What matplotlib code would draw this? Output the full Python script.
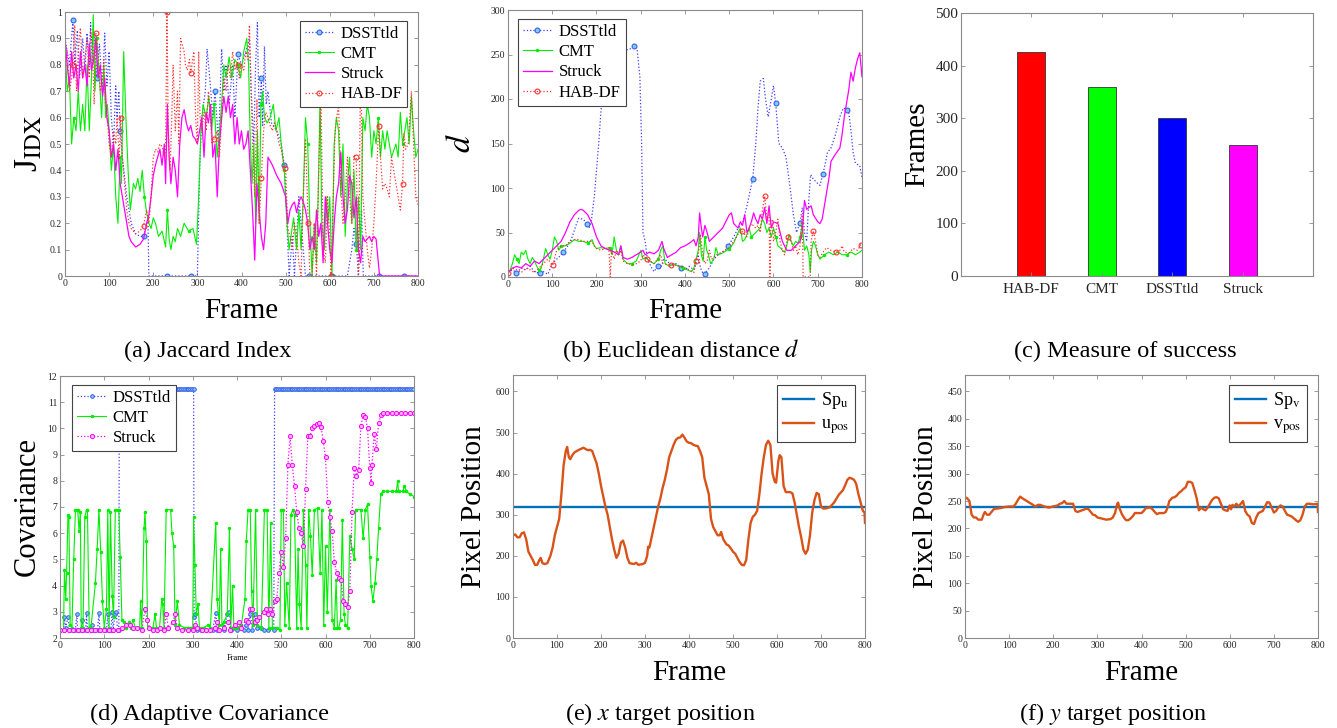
import numpy as np
import matplotlib
matplotlib.use("Agg")
import matplotlib.pyplot as plt

plt.rcParams['font.family'] = ['Liberation Serif', 'DejaVu Serif']
plt.rcParams['mathtext.fontset'] = 'stix'

# ---------------- (a) Jaccard index ----------------
jac_dsst_f = [0, 5, 10, 18, 22, 28, 33, 40, 45, 50, 55, 58, 62, 68, 72, 78, 85, 90, 95, 100, 105, 110, 115, 118, 122, 125,
              130, 140, 150, 160, 170, 178, 185, 188, 190, 232, 285, 300, 305, 310, 318, 322, 328, 335, 340, 348, 355, 360,
              365, 372, 380, 385, 392, 400, 410, 418, 422, 428, 432, 436, 440, 445, 448, 452, 456, 460, 468, 480, 490, 497,
              503, 508, 515, 520, 530, 540, 545, 553, 605, 640, 650, 655, 660, 665, 672, 676, 680, 712, 768, 800]
jac_dsst_v = [0.9, 0.85, 0.8, 0.97, 0.8, 0.93, 0.75, 0.9, 0.78, 0.92, 0.8, 0.96, 0.8, 0.92, 0.75, 0.88, 0.7, 0.92, 0.72, 0.85,
              0.6, 0.5, 0.72, 0.6, 0.7, 0.55, 0.45, 0.3, 0.2, 0.16, 0.15, 0.15, 0.2, 0.22, 0.0, 0.0, 0.0, 0.0, 0.4, 0.6,
              0.7, 0.86, 0.75, 0.6, 0.7, 0.5, 0.86, 0.7, 0.8, 0.65, 0.8, 0.6, 0.84, 0.8, 0.85, 0.9, 0.7, 0.5, 0.8, 0.96,
              0.6, 0.75, 0.57, 0.87, 0.65, 0.7, 0.58, 0.55, 0.5, 0.42, 0.2, 0.0, 0.15, 0.0, 0.3, 0.1, 0.0, 0.0, 0.0, 0.0,
              0.1, 0.18, 0.12, 0.0, 0.25, 0.0, 0.0, 0.0, 0.0, 0.0]

jac_cmt_f = [0, 5, 10, 15, 20, 25, 30, 35, 40, 45, 50, 55, 60, 64, 68, 72, 78, 83, 88, 92, 96, 100, 105, 110, 115, 120, 125,
             128, 133, 138, 143, 148, 155, 160, 165, 170, 175, 180, 185, 190, 195, 200, 205, 212, 220, 228, 232, 236, 240,
             245, 250, 255, 262, 270, 280, 290, 298, 303, 308, 313, 320, 326, 332, 338, 345, 350, 355, 360, 365, 372, 378,
             385, 392, 398, 405, 412, 416, 420, 424, 428, 432, 436, 440, 444, 448, 452, 458, 465, 472, 478, 485, 490, 497,
             503, 508, 512, 518, 525, 530, 535, 540, 545, 550, 555, 560, 565, 570, 575, 578, 582, 588, 592, 596, 600, 605,
             610, 615, 620, 625, 630, 635, 640, 645, 650, 655, 660, 665, 670, 675, 680, 685, 690, 695, 700, 705, 710, 715,
             720, 725, 730, 740, 750, 755, 760, 765, 770, 775, 780, 785, 790, 795, 800]
jac_cmt_v = [0.87, 0.7, 0.75, 0.5, 0.6, 0.55, 0.7, 0.55, 0.65, 0.55, 0.8, 0.55, 0.75, 0.99, 0.7, 0.9, 0.75, 0.6, 0.8, 0.6,
             0.65, 0.55, 0.4, 0.5, 0.3, 0.2, 0.45, 0.35, 0.85, 0.6, 0.4, 0.25, 0.35, 0.33, 0.37, 0.32, 0.4, 0.3, 0.24, 0.2,
             0.18, 0.22, 0.2, 0.15, 0.17, 0.11, 0.25, 0.14, 0.1, 0.15, 0.13, 0.18, 0.15, 0.2, 0.17, 0.18, 0.12, 0.3, 0.55,
             0.65, 0.6, 0.68, 0.55, 0.65, 0.45, 0.55, 0.65, 0.8, 0.75, 0.83, 0.75, 0.82, 0.8, 0.75, 0.85, 0.9, 0.8, 0.5,
             0.35, 0.5, 0.2, 0.55, 0.2, 0.65, 0.7, 0.6, 0.58, 0.6, 0.65, 0.55, 0.6, 0.5, 0.4, 0.2, 0.1, 0.15, 0.22, 0.1,
             0.25, 0.1, 0.3, 0.6, 0.5, 0.2, 0.0, 0.2, 0.05, 0.4, 0.68, 0.2, 0.1, 0.3, 0.2, 0.3, 0.0, 0.5, 0.6, 0.55, 0.3,
             0.5, 0.15, 0.35, 0.45, 0.2, 0.4, 0.1, 0.3, 0.1, 0.6, 0.55, 0.65, 0.6, 0.45, 0.55, 0.5, 0.6, 0.45, 0.55, 0.48,
             0.55, 0.45, 0.5, 0.45, 0.62, 0.5, 0.55, 0.6, 0.5, 0.68, 0.55, 0.45, 0.48]

jac_struck_f = [0, 5, 10, 15, 20, 25, 30, 35, 40, 45, 50, 55, 60, 65, 70, 75, 80, 85, 90, 95, 100, 105, 110, 115, 120, 125,
                130, 135, 140, 145, 150, 160, 170, 178, 185, 190, 195, 200, 205, 210, 215, 220, 225, 228, 232, 236, 240,
                245, 250, 255, 260, 265, 270, 275, 280, 285, 290, 295, 300, 305, 310, 315, 320, 325, 330, 335, 340, 345,
                350, 355, 360, 365, 370, 375, 380, 385, 390, 395, 400, 405, 410, 415, 420, 425, 430, 435, 440, 445, 450,
                455, 460, 470, 480, 490, 500, 505, 510, 515, 520, 525, 530, 535, 540, 545, 550, 555, 560, 565, 570, 575,
                580, 585, 590, 595, 600, 605, 610, 615, 620, 625, 630, 635, 640, 645, 650, 655, 660, 665, 670, 675, 680,
                690, 695, 700, 705, 710, 713, 800]
jac_struck_v = [0.9, 0.8, 0.72, 0.85, 0.75, 0.8, 0.7, 0.85, 0.75, 0.8, 0.72, 0.88, 0.78, 0.82, 0.9, 0.75, 0.8, 0.68, 0.75,
                0.6, 0.55, 0.45, 0.5, 0.4, 0.48, 0.35, 0.3, 0.25, 0.2, 0.15, 0.13, 0.11, 0.12, 0.14, 0.2, 0.23, 0.3, 0.38,
                0.42, 0.45, 0.48, 0.42, 0.5, 0.35, 0.65, 0.45, 0.35, 0.45, 0.4, 0.3, 0.5, 0.6, 0.63, 0.58, 0.55, 0.57,
                0.53, 0.52, 0.5, 0.55, 0.6, 0.45, 0.62, 0.58, 0.65, 0.45, 0.5, 0.3, 0.5, 0.6, 0.68, 0.62, 0.68, 0.6, 0.65,
                0.5, 0.6, 0.5, 0.55, 0.48, 0.5, 0.55, 0.4, 0.25, 0.06, 0.35, 0.25, 0.15, 0.1, 0.2, 0.45, 0.42, 0.38, 0.35,
                0.3, 0.2, 0.25, 0.27, 0.28, 0.24, 0.28, 0.3, 0.28, 0.25, 0.2, 0.1, 0.15, 0.1, 0.25, 0.15, 0.2, 0.05, 0.3,
                0.2, 0.1, 0.05, 0.2, 0.3, 0.35, 0.47, 0.3, 0.2, 0.25, 0.38, 0.35, 0.22, 0.3, 0.1, 0.05, 0.15, 0.13, 0.15,
                0.13, 0.15, 0.14, 0.05, 0.0, 0.0]

jac_hab_f = [0, 5, 10, 15, 18, 22, 26, 30, 35, 40, 45, 50, 55, 58, 62, 66, 70, 75, 80, 85, 88, 92, 96, 100, 105, 110, 115,
             118, 123, 126, 130, 135, 140, 145, 150, 160, 170, 178, 185, 190, 195, 200, 205, 210, 215, 220, 225, 228, 231,
             234, 238, 242, 245, 250, 255, 258, 262, 265, 270, 273, 277, 282, 285, 292, 296, 300, 303, 306, 310, 315, 320,
             325, 330, 333, 338, 345, 350, 355, 360, 365, 370, 375, 380, 385, 391, 395, 400, 405, 410, 415, 418, 422, 425,
             430, 435, 440, 445, 450, 455, 460, 465, 470, 475, 480, 485, 490, 498, 500, 505, 510, 515, 520, 525, 530, 535,
             540, 545, 551, 555, 560, 565, 570, 575, 580, 585, 590, 595, 600, 603, 608, 612, 616, 620, 625, 630, 635, 640,
             645, 650, 655, 660, 665, 670, 675, 680, 685, 690, 695, 700, 705, 711, 715, 720, 725, 730, 735, 740, 745, 750,
             755, 760, 765, 768, 772, 778, 785, 790, 795, 800]
jac_hab_v = [0.88, 0.85, 0.7, 0.75, 0.8, 0.95, 0.7, 0.85, 0.94, 0.75, 0.82, 0.9, 0.75, 0.93, 0.88, 0.65, 0.92, 0.85, 0.7,
             0.75, 0.82, 0.65, 0.6, 0.5, 0.45, 0.55, 0.5, 0.6, 0.44, 0.6, 0.45, 0.35, 0.25, 0.2, 0.18, 0.16, 0.17, 0.19,
             0.25, 0.2, 0.3, 0.45, 0.48, 0.47, 0.5, 0.49, 0.45, 0.48, 1.0, 0.55, 0.4, 0.6, 0.8, 0.55, 0.7, 0.5, 0.9, 0.88,
             0.85, 0.8, 0.78, 0.82, 0.77, 0.85, 0.6, 0.5, 0.85, 0.6, 0.55, 0.62, 0.55, 0.7, 0.6, 0.5, 0.52, 0.55, 0.45,
             0.6, 0.75, 0.7, 0.8, 0.75, 0.85, 0.78, 0.8, 0.75, 0.8, 0.78, 0.85, 0.82, 0.95, 0.7, 0.5, 0.3, 0.67, 0.2, 0.37,
             0.55, 0.62, 0.6, 0.57, 0.55, 0.58, 0.55, 0.5, 0.48, 0.41, 0.4, 0.18, 0.15, 0.1, 0.2, 0.15, 0.05, 0.0, 0.3,
             0.52, 0.2, 0.0, 0.0, 0.2, 0.0, 0.4, 0.7, 0.1, 0.05, 0.3, 0.14, 0.0, 0.3, 0.55, 0.6, 0.65, 0.35, 0.2, 0.3,
             0.45, 0.3, 0.2, 0.46, 0.45, 0.0, 0.8, 0.3, 0.2, 0.1, 0.03, 0.1, 0.2, 0.35, 0.57, 0.45, 0.33, 0.35, 0.33, 0.3,
             0.45, 0.4, 0.35, 0.3, 0.25, 0.35, 0.54, 0.48, 0.5, 0.7, 0.5, 0.3, 0.27]

# ---------------- (b) Euclidean distance ----------------
dist_dsst_f = [0, 10, 19, 30, 40, 50, 60, 72, 80, 90, 100, 110, 120, 125, 135, 145, 155, 160, 170, 178, 183, 188, 195,
               205, 212, 220, 230, 240, 250, 258, 265, 275, 285, 292, 298, 302, 305, 310, 315, 320, 325, 330, 338, 345,
               352, 360, 370, 380, 392, 400, 410, 420, 425, 430, 435, 440, 445, 448, 455, 460, 465, 475, 485, 491, 498,
               510, 520, 530, 540, 553, 560, 565, 570, 577, 582, 588, 595, 600, 605, 608, 612, 620, 628, 635, 640, 645,
               652, 660, 665, 670, 675, 680, 684, 690, 700, 705, 712, 718, 722, 730, 740, 750, 758, 765, 770, 775, 780,
               785, 795, 800]
dist_dsst_v = [5, 8, 5, 10, 8, 12, 6, 4, 6, 3, 15, 20, 25, 28, 35, 45, 60, 66, 65, 60, 55, 62, 90, 150, 200, 240, 255, 257,
               255, 252, 255, 256, 259, 255, 225, 150, 50, 40, 20, 15, 10, 6, 12, 10, 20, 18, 12, 15, 10, 8, 12, 8, 15, 25,
               10, 5, 3, 6, 10, 15, 20, 25, 28, 30, 35, 45, 55, 60, 80, 110, 150, 190, 220, 223, 200, 180, 200, 215, 195,
               176, 150, 145, 135, 110, 90, 70, 50, 61, 78, 50, 40, 88, 115, 110, 105, 103, 116, 130, 140, 145, 160, 180,
               190, 188, 185, 165, 140, 128, 125, 112]

dist_cmt_f = [0, 5, 10, 15, 20, 25, 30, 35, 40, 45, 50, 55, 60, 65, 70, 75, 80, 85, 90, 95, 100, 105, 110, 115, 120, 130,
              140, 150, 160, 170, 180, 190, 195, 200, 210, 220, 230, 235, 240, 245, 250, 255, 260, 270, 280, 290, 300,
              305, 310, 315, 320, 330, 340, 345, 350, 355, 365, 375, 385, 395, 405, 415, 420, 425, 430, 433, 437, 441,
              445, 449, 453, 458, 465, 470, 475, 485, 495, 500, 510, 520, 525, 530, 535, 540, 545, 550, 560, 570, 575,
              580, 585, 590, 595, 600, 605, 610, 615, 620, 625, 630, 635, 640, 645, 650, 655, 660, 665, 670, 675, 680,
              683, 686, 690, 695, 700, 705, 715, 725, 735, 745, 755, 765, 775, 785, 795, 800]
dist_cmt_v = [5, 8, 15, 25, 20, 15, 28, 25, 30, 20, 15, 22, 18, 12, 8, 10, 20, 32, 25, 20, 30, 45, 40, 30, 35, 35, 38, 42,
              40, 40, 38, 42, 35, 32, 33, 32, 33, 25, 45, 30, 25, 35, 20, 15, 15, 18, 30, 20, 22, 20, 18, 15, 20, 30, 35,
              15, 12, 15, 12, 10, 8, 6, 10, 20, 30, 50, 25, 18, 45, 30, 25, 15, 20, 33, 25, 27, 30, 32, 38, 50, 55, 40,
              42, 48, 55, 45, 50, 55, 65, 60, 50, 55, 45, 55, 45, 35, 33, 30, 28, 35, 48, 40, 35, 40, 38, 45, 60, 30, 35,
              25, 5, 30, 40, 35, 25, 20, 25, 28, 25, 28, 25, 25, 28, 25, 28, 30]

dist_struck_f = [0, 10, 20, 30, 40, 50, 60, 70, 80, 90, 100, 110, 120, 130, 140, 150, 160, 165, 170, 180, 190, 200, 210,
                 220, 230, 240, 250, 255, 260, 270, 280, 290, 300, 305, 310, 320, 330, 340, 348, 352, 360, 370, 380, 390,
                 400, 410, 420, 425, 430, 433, 437, 440, 445, 450, 455, 465, 475, 485, 495, 500, 505, 510, 520, 525, 530,
                 535, 540, 545, 550, 555, 560, 565, 570, 575, 580, 585, 590, 595, 600, 610, 615, 620, 630, 640, 650, 660,
                 665, 670, 675, 680, 685, 690, 700, 705, 710, 715, 720, 725, 730, 740, 750, 755, 760, 765, 770, 775, 780,
                 785, 790, 795, 800]
dist_struck_v = [5, 10, 12, 10, 15, 12, 18, 15, 20, 25, 30, 35, 40, 50, 62, 70, 75, 76, 75, 70, 60, 45, 35, 32, 30, 28, 25,
                 35, 22, 20, 22, 25, 28, 30, 25, 28, 26, 30, 40, 32, 22, 25, 28, 33, 35, 38, 42, 35, 45, 72, 55, 45, 58,
                 50, 40, 45, 50, 55, 65, 70, 72, 60, 55, 62, 58, 70, 50, 55, 62, 72, 65, 60, 70, 65, 78, 60, 80, 55, 62,
                 60, 50, 40, 30, 30, 35, 40, 50, 86, 76, 78, 80, 70, 62, 60, 65, 80, 95, 110, 130, 138, 145, 160, 180, 195,
                 210, 230, 220, 235, 245, 252, 225]

dist_hab_f = [0, 10, 20, 30, 40, 50, 60, 70, 80, 90, 101, 110, 120, 130, 140, 150, 160, 170, 180, 190, 195, 200, 210, 220,
              228, 231, 234, 240, 245, 250, 255, 260, 270, 280, 290, 300, 305, 313, 320, 330, 338, 345, 350, 360, 368,
              380, 390, 400, 410, 420, 425, 430, 435, 440, 445, 450, 455, 460, 465, 470, 480, 490, 500, 510, 520, 528,
              540, 545, 550, 560, 565, 570, 575, 580, 585, 590, 592, 594, 598, 600, 605, 610, 615, 620, 625, 632, 640,
              645, 650, 655, 660, 665, 667, 683, 685, 690, 695, 700, 705, 712, 720, 730, 742, 750, 755, 760, 770, 780,
              790, 797, 800]
dist_hab_v = [5, 10, 8, 5, 10, 8, 5, 10, 15, 20, 13, 30, 35, 35, 40, 42, 42, 40, 40, 40, 35, 32, 30, 32, 33, 0, 30, 20, 30,
              25, 30, 18, 15, 14, 15, 18, 25, 20, 18, 15, 20, 25, 15, 14, 14, 13, 12, 10, 8, 5, 18, 25, 48, 25, 15, 18,
              30, 20, 22, 25, 27, 30, 33, 40, 48, 52, 45, 55, 60, 55, 58, 50, 75, 91, 65, 70, 0, 60, 65, 40, 50, 65, 40,
              30, 25, 45, 40, 30, 35, 25, 35, 70, 0, 0, 40, 52, 40, 25, 22, 28, 33, 30, 28, 30, 35, 28, 27, 32, 30, 36,
              38]

# ---------------- (c) measure of success ----------------
trackers = ['HAB-DF', 'CMT', 'DSSTtld', 'Struck']
success_frames = [426, 360, 300, 250]
bar_colors = ['#ff0000', '#00ff00', '#0000ff', '#ff00ff']

# ---------------- (d) adaptive covariance ----------------
cov_dsst_f = ([0, 8, 10, 13, 18, 22, 35, 38, 40, 48, 50, 52, 58, 60, 62, 70, 72, 75, 85, 88, 90, 105, 108, 110, 115, 118,
               120, 124, 127, 130, 133]
              + list(range(134, 303, 4))
              + [303, 305, 310, 318, 330, 345, 352, 355, 370, 378, 383, 386, 400, 415, 420, 425, 430, 435, 440, 445,
                 455, 460, 470, 483]
              + list(range(485, 801, 4)))
cov_dsst_v = ([2.3, 2.3, 2.8, 2.4, 2.8, 2.3, 2.3, 2.9, 2.3, 2.3, 2.7, 2.3, 2.3, 2.95, 2.3, 2.3, 2.5, 2.3, 2.3, 2.95, 2.3,
               2.3, 2.9, 2.3, 2.3, 3.0, 2.3, 2.9, 3.0, 2.3, 2.3]
              + [11.5] * len(range(134, 303, 4))
              + [2.8, 2.9, 2.3, 2.3, 2.3, 2.3, 2.95, 2.3, 2.3, 2.9, 3.0, 2.3, 2.3, 2.3, 2.5, 2.3, 2.9, 2.3, 2.9, 2.4,
                 2.4, 2.3, 2.3, 2.3]
              + [11.5] * len(range(485, 801, 4)))

cov_cmt_f = [0, 8, 10, 13, 15, 18, 20, 23, 27, 31, 35, 40, 43, 46, 48, 52, 56, 60, 62, 66, 70, 80, 84, 88, 92, 96, 100,
             105, 108, 111, 114, 118, 121, 125, 131, 133, 136, 140, 145, 150, 155, 160, 165, 170, 180, 182, 185, 190, 192,
             195, 198, 210, 215, 218, 225, 230, 232, 235, 240, 250, 253, 257, 260, 265, 270, 280, 290, 295, 300, 302, 305,
             308, 312, 315, 325, 335, 340, 352, 355, 360, 363, 366, 370, 378, 383, 386, 390, 393, 400, 410, 418, 421, 425,
             430, 433, 436, 442, 446, 455, 462, 468, 472, 476, 480, 490, 497, 500, 505, 508, 512, 518, 522, 526, 530, 535,
             538, 541, 545, 550, 555, 558, 562, 566, 570, 575, 582, 588, 592, 596, 600, 604, 610, 615, 620, 624, 627, 630,
             634, 638, 642, 645, 650, 655, 660, 665, 668, 680, 685, 690, 695, 700, 703, 707, 712, 716, 720, 725, 730, 740,
             750, 760, 763, 765, 775, 778, 783, 790, 800]
cov_cmt_v = [2.3, 2.3, 4.6, 3.5, 4.5, 6.7, 6.6, 2.5, 2.4, 5.0, 6.9, 6.9, 6.1, 6.8, 2.4, 2.4, 6.6, 6.9, 6.9, 2.4, 2.4, 4.1,
             5.4, 6.9, 5.3, 3.4, 2.4, 3.1, 6.9, 2.4, 6.8, 3.6, 2.8, 6.9, 6.9, 6.9, 5.1, 2.7, 2.6, 2.4, 2.6, 2.4, 2.7, 2.4,
             2.4, 3.4, 2.4, 6.2, 6.8, 5.7, 2.4, 2.4, 2.9, 2.4, 2.4, 3.5, 3.3, 2.4, 6.9, 6.9, 6.0, 5.5, 2.5, 3.4, 2.5, 2.4,
             2.4, 2.4, 2.4, 6.6, 4.8, 2.9, 3.3, 2.4, 2.4, 2.5, 2.4, 6.4, 3.5, 2.5, 5.4, 2.5, 2.6, 2.9, 6.2, 2.4, 4.0, 2.4,
             2.4, 2.5, 3.5, 5.7, 6.9, 6.9, 3.8, 2.5, 6.9, 2.5, 2.4, 6.9, 6.9, 2.4, 6.4, 2.4, 2.4, 2.3, 6.9, 6.9, 2.5, 4.1,
             2.4, 6.7, 6.9, 6.7, 2.4, 5.4, 3.3, 2.4, 6.9, 4.8, 2.4, 6.9, 5.9, 4.4, 6.9, 6.95, 4.5, 6.9, 2.5, 5.5, 3.0, 6.9,
             2.7, 2.4, 4.2, 2.4, 2.4, 2.7, 6.5, 2.9, 2.5, 2.4, 5.9, 5.4, 5.0, 6.9, 6.9, 5.8, 6.9, 7.1, 5.1, 4.0, 3.4, 4.1,
             5.0, 6.2, 7.5, 7.6, 7.6, 7.6, 7.6, 8.0, 7.6, 7.6, 7.8, 7.6, 7.5, 7.4]

cov_struck_f = [0, 10, 20, 30, 40, 50, 60, 70, 80, 90, 100, 110, 120, 130, 140, 150, 158, 165, 175, 185, 192, 197, 202,
                210, 220, 225, 235, 240, 245, 255, 260, 265, 275, 290, 300, 305, 310, 320, 330, 340, 350, 355, 360, 370,
                380, 385, 395, 405, 410, 420, 425, 430, 435, 440, 445, 450, 460, 465, 470, 475, 480, 485, 490, 495, 500,
                505, 510, 515, 520, 525, 530, 535, 540, 545, 550, 555, 560, 565, 570, 575, 580, 585, 590, 595, 600, 605,
                610, 615, 620, 625, 630, 635, 640, 645, 650, 655, 660, 665, 670, 675, 680, 685, 690, 695, 700, 703, 705,
                710, 715, 720, 725, 730, 740, 750, 760, 770, 780, 790, 800]
cov_struck_v = [2.3, 2.3, 2.3, 2.3, 2.3, 2.3, 2.3, 2.3, 2.3, 2.3, 2.3, 2.3, 2.3, 2.3, 2.4, 2.5, 2.5, 2.4, 2.4, 2.3, 3.1,
                2.7, 2.4, 2.3, 2.3, 2.4, 2.3, 2.9, 2.4, 2.6, 2.9, 2.4, 2.3, 2.3, 2.3, 2.5, 2.4, 2.3, 2.3, 2.3, 2.4, 2.6,
                2.3, 2.4, 2.6, 2.3, 2.5, 2.6, 2.4, 2.7, 2.6, 3.1, 3.1, 2.6, 2.7, 2.8, 3.0, 3.1, 2.9, 3.1, 2.9, 3.4, 3.5,
                4.5, 5.3, 4.7, 5.8, 8.6, 9.7, 8.6, 7.8, 6.8, 6.2, 6.0, 5.5, 7.7, 9.7, 9.7, 10.0, 10.1, 10.15, 10.2, 10.05,
                9.5, 8.9, 7.2, 6.6, 6.1, 4.9, 4.5, 4.3, 4.2, 3.4, 3.3, 3.2, 3.8, 6.8, 8.5, 8.2, 8.4, 10.1, 10.5, 10.45,
                10.0, 8.5, 7.9, 8.6, 9.8, 9.2, 10.2, 10.5, 10.6, 10.6, 10.6, 10.6, 10.6, 10.6, 10.6, 10.6]

# ---------------- (e) / (f) target position ----------------
setpoint_u = 320
setpoint_v = 240

upos_f = [0, 5, 10, 15, 20, 25, 30, 35, 40, 45, 50, 55, 60, 63, 67, 72, 78, 85, 90, 95, 100, 105, 110, 115, 120, 123, 127,
          130, 135, 140, 150, 160, 165, 170, 175, 180, 185, 190, 195, 200, 205, 210, 215, 220, 225, 230, 235, 240, 245,
          250, 255, 260, 265, 275, 280, 285, 295, 300, 305, 307, 310, 315, 320, 325, 330, 335, 340, 345, 350, 355, 360,
          365, 370, 375, 380, 385, 390, 395, 400, 405, 410, 415, 420, 425, 430, 435, 440, 445, 450, 455, 460, 465, 470,
          473, 478, 485, 490, 495, 500, 505, 510, 515, 520, 525, 530, 535, 540, 545, 550, 555, 560, 565, 570, 575, 580,
          585, 590, 595, 598, 603, 606, 610, 615, 620, 625, 630, 635, 640, 645, 650, 655, 660, 665, 670, 675, 680, 685,
          690, 695, 700, 705, 710, 720, 730, 740, 750, 755, 760, 765, 770, 775, 780, 785, 790, 795, 799, 800]
upos_v = [250, 252, 245, 245, 255, 257, 240, 210, 200, 190, 178, 178, 190, 195, 182, 180, 182, 200, 220, 250, 270, 290,
          350, 420, 455, 465, 440, 435, 445, 452, 458, 463, 460, 457, 458, 455, 440, 425, 400, 370, 345, 320, 300, 270,
          240, 215, 195, 205, 232, 237, 220, 195, 182, 180, 183, 178, 180, 183, 200, 222, 220, 245, 270, 295, 320, 340,
          365, 385, 410, 440, 455, 470, 482, 487, 488, 495, 487, 478, 475, 474, 470, 468, 467, 455, 440, 390, 370, 350,
          290, 270, 260, 250, 250, 258, 240, 228, 225, 218, 210, 205, 195, 185, 178, 177, 190, 240, 280, 295, 300, 310,
          350, 400, 440, 470, 480, 470, 400, 380, 378, 430, 445, 440, 370, 355, 355, 355, 352, 330, 300, 270, 245, 215,
          205, 215, 250, 305, 335, 353, 350, 320, 315, 315, 318, 330, 348, 360, 372, 385, 390, 388, 385, 375, 350, 330,
          310, 305, 280]

vpos_f = [0, 5, 10, 15, 20, 25, 30, 38, 42, 45, 50, 55, 60, 65, 70, 80, 90, 100, 110, 115, 120, 125, 130, 140, 150, 160,
          165, 170, 180, 190, 200, 210, 215, 220, 225, 230, 240, 245, 250, 255, 265, 275, 280, 285, 290, 295, 300, 310,
          320, 330, 335, 340, 345, 347, 350, 355, 360, 365, 370, 375, 380, 385, 390, 395, 400, 405, 410, 420, 425, 430,
          435, 440, 450, 455, 460, 463, 470, 475, 480, 485, 490, 495, 500, 505, 510, 515, 520, 525, 530, 535, 540, 545,
          550, 555, 560, 565, 570, 575, 580, 585, 590, 595, 600, 603, 606, 610, 615, 620, 625, 630, 635, 640, 645, 650,
          655, 660, 665, 670, 675, 680, 685, 690, 695, 700, 705, 710, 715, 720, 725, 730, 740, 750, 755, 760, 765, 770,
          775, 780, 790, 799, 800]
vpos_v = [257, 255, 250, 225, 220, 220, 216, 216, 225, 230, 225, 225, 230, 235, 236, 237, 239, 240, 240, 245, 252, 258,
          255, 250, 245, 240, 243, 243, 240, 238, 240, 242, 245, 246, 250, 245, 245, 245, 232, 230, 233, 236, 235, 230,
          225, 224, 220, 218, 216, 217, 220, 228, 245, 247, 237, 227, 220, 215, 215, 218, 222, 228, 228, 228, 228, 232,
          237, 238, 235, 230, 226, 228, 228, 230, 240, 250, 256, 257, 260, 265, 268, 272, 275, 285, 285, 283, 270, 255,
          233, 238, 235, 233, 238, 245, 252, 256, 257, 255, 245, 235, 233, 232, 242, 235, 243, 240, 245, 240, 245, 250,
          232, 225, 222, 210, 208, 220, 228, 230, 232, 240, 248, 247, 238, 229, 232, 238, 242, 240, 232, 225, 222, 215,
          212, 215, 225, 240, 245, 245, 244, 245, 230]

# ---------------- styling helpers ----------------
W, H = 1337, 728
SPINE = '#8a8a8a'
TICKC = '#262626'
C_DSST = '#3c3cff'
C_CMT = '#00ee00'
C_STRUCK = '#ff00ff'
C_HAB = '#ff3030'
C_SP = '#0072BD'
C_POS = '#D95319'
CAPTION = 17.5


def box(l, t, r, b):
    return [l / W, 1 - b / H, (r - l) / W, (b - t) / H]


def style(ax):
    for s in ax.spines.values():
        s.set_color(SPINE)
        s.set_linewidth(0.8)
    ax.tick_params(direction='in', top=True, right=True, length=3, width=0.6, color=SPINE,
                   labelsize=7, labelcolor=TICKC, pad=2)


def marks(frames, at):
    fr = np.asarray(frames)
    return sorted({int(np.argmin(np.abs(fr - m))) for m in at})


def legend(ax, loc, anchor, size):
    lg = ax.legend(loc=loc, bbox_to_anchor=anchor, fontsize=size, frameon=True, fancybox=False,
                   framealpha=1, edgecolor='#444444', borderpad=0.3, labelspacing=0.25,
                   handlelength=1.75, handletextpad=0.4, borderaxespad=0)
    lg.get_frame().set_linewidth(0.8)
    return lg


fig = plt.figure(figsize=(W / 100, H / 100), dpi=100)

mk_a = [18, 71, 125, 178, 231, 285, 338, 391, 445, 498, 551, 605, 658, 711, 765]
mk_b_hab = [0, 101, 313, 368, 425, 528, 580, 632, 690, 742, 797]

# (a)
ax = fig.add_axes(box(65, 12, 418, 276))
ax.plot(jac_dsst_f, jac_dsst_v, ':', color=C_DSST, lw=0.9, marker='o', ms=3.5, mfc='#7ccfe6', mec='#3a5cf0',
        mew=0.8, markevery=marks(jac_dsst_f, mk_a), label='DSSTtld')
ax.plot(jac_cmt_f, jac_cmt_v, '-', color=C_CMT, lw=0.8, marker='.', ms=3, markevery=marks(jac_cmt_f, mk_a),
        label='CMT')
ax.plot(jac_struck_f, jac_struck_v, '-', color=C_STRUCK, lw=0.9, label='Struck')
ax.plot(jac_hab_f, jac_hab_v, ':', color=C_HAB, lw=0.9, marker='o', ms=3.5, mfc='none', mec=C_HAB, mew=0.8,
        markevery=marks(jac_hab_f, mk_a), label='HAB-DF')
ax.set_xlim(0, 800)
ax.set_ylim(0, 1)
ax.set_xticks(range(0, 801, 100))
ax.set_yticks(np.arange(0, 1.01, 0.1))
ax.set_yticklabels(['0'] + [f'{v / 10:.1f}' for v in range(1, 10)] + ['1'])
style(ax)
ax.set_xlabel('Frame', fontsize=21, labelpad=7)
ax.set_ylabel(r'J$_{\mathrm{IDX}}$', fontsize=24, labelpad=4)
legend(ax, 'upper right', (0.97, 0.966), 12)
fig.text(208 / W, 1 - 351 / H, '(a) Jaccard Index', ha='center', va='center', fontsize=CAPTION)

# (b)
ax = fig.add_axes(box(508, 10, 862, 277))
ax.plot(dist_dsst_f, dist_dsst_v, ':', color=C_DSST, lw=0.9, marker='o', ms=3.5, mfc='#7ccfe6', mec='#3a5cf0',
        mew=0.8, markevery=marks(dist_dsst_f, [19] + mk_a[1:]), label='DSSTtld')
ax.plot(dist_cmt_f, dist_cmt_v, '-', color=C_CMT, lw=0.8, marker='.', ms=3,
        markevery=marks(dist_cmt_f, mk_a), label='CMT')
ax.plot(dist_struck_f, dist_struck_v, '-', color=C_STRUCK, lw=0.9, label='Struck')
ax.plot(dist_hab_f, dist_hab_v, ':', color=C_HAB, lw=0.9, marker='o', ms=3.5, mfc='none', mec=C_HAB, mew=0.8,
        markevery=marks(dist_hab_f, mk_b_hab), label='HAB-DF')
ax.set_xlim(0, 800)
ax.set_ylim(0, 300)
ax.set_xticks(range(0, 801, 100))
ax.set_yticks(range(0, 301, 50))
style(ax)
ax.set_xlabel('Frame', fontsize=21, labelpad=7)
ax.set_ylabel(r'$d$', fontsize=24, labelpad=10)
legend(ax, 'upper left', (0.028, 0.966), 12)
fig.text(681 / W, 1 - 351 / H, r'(b) Euclidean distance $d$', ha='center', va='center', fontsize=CAPTION)

# (c)
ax = fig.add_axes(box(961, 13, 1313, 276))
pos = np.arange(1, len(trackers) + 1)
ax.bar(pos, success_frames, width=0.4, color=bar_colors, edgecolor='#333333', linewidth=0.6)
ax.set_xlim(0, 5)
ax.set_ylim(0, 500)
ax.set_xticks(pos)
ax.set_xticklabels(trackers)
ax.set_yticks(range(0, 501, 100))
style(ax)
ax.tick_params(axis='x', labelsize=11, pad=5)
ax.tick_params(axis='y', labelsize=11)
ax.set_ylabel('Frames', fontsize=21, labelpad=4)
fig.text(1125 / W, 1 - 351 / H, '(c) Measure of success', ha='center', va='center', fontsize=CAPTION)

# (d)
ax = fig.add_axes(box(60, 376, 414, 638))
ax.plot(cov_dsst_f, cov_dsst_v, ':', color=C_DSST, lw=0.9, marker='o', ms=2.6, mfc='#7ccfe6', mec='#3a5cf0',
        mew=0.7, label='DSSTtld')
ax.plot(cov_cmt_f, cov_cmt_v, '-', color=C_CMT, lw=0.8, marker='.', ms=3, label='CMT')
ax.plot(cov_struck_f, cov_struck_v, ':', color=C_STRUCK, lw=0.9, marker='o', ms=3, mfc='#f6b8f6', mec=C_STRUCK,
        mew=0.7, label='Struck')
ax.set_xlim(0, 800)
ax.set_ylim(2, 12)
ax.set_xticks(range(0, 801, 100))
ax.set_yticks(range(2, 13))
style(ax)
ax.set_xlabel('Frame', fontsize=6, labelpad=3)
ax.set_ylabel('Covariance', fontsize=22, labelpad=4)
legend(ax, 'upper left', (0.034, 0.966), 12)
fig.text(209 / W, 1 - 714 / H, '(d) Adaptive Covariance', ha='center', va='center', fontsize=CAPTION)

# (e)
ax = fig.add_axes(box(513, 375, 865, 638))
ax.plot([0, 800], [setpoint_u, setpoint_u], '-', color=C_SP, lw=1.7, label=r'Sp$_{\mathrm{u}}$')
ax.plot(upos_f, upos_v, '-', color=C_POS, lw=1.7, label=r'u$_{\mathrm{pos}}$')
ax.set_xlim(0, 800)
ax.set_ylim(0, 640)
ax.set_xticks(range(0, 801, 100))
ax.set_yticks(range(0, 601, 100))
style(ax)
ax.set_xlabel('Frame', fontsize=21, labelpad=7)
ax.set_ylabel('Pixel Position', fontsize=21, labelpad=6)
legend(ax, 'upper right', (0.972, 0.962), 13)
fig.text(660 / W, 1 - 714 / H, r'(e) $x$ target position', ha='center', va='center', fontsize=CAPTION)

# (f)
ax = fig.add_axes(box(965, 375, 1318, 638))
ax.plot([0, 800], [setpoint_v, setpoint_v], '-', color=C_SP, lw=1.7, label=r'Sp$_{\mathrm{v}}$')
ax.plot(vpos_f, vpos_v, '-', color=C_POS, lw=1.7, label=r'v$_{\mathrm{pos}}$')
ax.set_xlim(0, 800)
ax.set_ylim(0, 480)
ax.set_xticks(range(0, 801, 100))
ax.set_yticks(range(0, 451, 50))
style(ax)
ax.set_xlabel('Frame', fontsize=21, labelpad=7)
ax.set_ylabel('Pixel Position', fontsize=21, labelpad=6)
legend(ax, 'upper right', (0.969, 0.962), 13)
fig.text(1113 / W, 1 - 714 / H, r'(f) $y$ target position', ha='center', va='center', fontsize=CAPTION)

fig.savefig('out.png', dpi=100)
